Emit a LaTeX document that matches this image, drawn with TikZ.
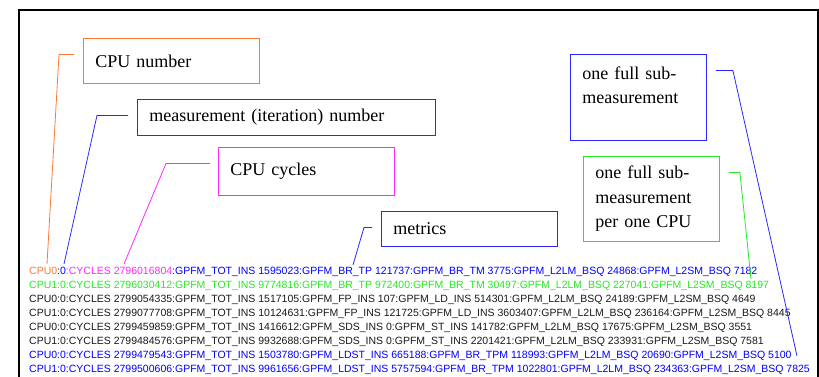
\documentclass[tikz,border=0pt]{standalone}
\usepackage{fontspec}
\setmainfont{Liberation Serif}
\setsansfont{Liberation Sans}
\definecolor{cpuorange}{RGB}{255,120,50}
\definecolor{notemagenta}{RGB}{255,40,255}
\definecolor{noteblue}{RGB}{40,40,255}
\definecolor{notegreen}{RGB}{40,230,40}
\definecolor{rowgray}{RGB}{25,25,25}
\tikzset{note/.style={draw=#1,line width=0.9pt,anchor=north west,align=left,inner xsep=12pt,inner ysep=0pt,font={\fontsize{18pt}{24.5pt}\selectfont}}}
\tikzset{note/.default={noteblue}}
\tikzset{lead/.style={draw,line width=0.8pt,#1}}
\tikzset{lead/.default={noteblue}}
\tikzset{row/.style={anchor=base west,inner sep=0pt,font={\sffamily\fontsize{10.5pt}{12pt}\selectfont}}}

\begin{document}
\begin{tikzpicture}[x=1pt,y=-1pt]
    \useasboundingbox (0,0) rectangle (819,376);
    \clip (0,0) rectangle (819,376);
    \draw[line width=2pt] (19,400) -- (19,10) -- (817.5,10) -- (817.5,400);
    % boxes
    \node[note=cpuorange,text width=152pt,minimum height=45pt] (cpunum) at (83,38) {CPU number};
    \node[note,text width=274pt,minimum height=36pt] (meas) at (137,99) {measurement (iteration) number};
    \node[note=notemagenta,text width=152pt,minimum height=48pt] (cycles) at (218,147) {CPU cycles};
    \node[note,text width=152pt,minimum height=35pt] (metrics) at (381,211) {metrics};
    \node[note,text width=112pt,minimum height=86pt] (sub) at (570,54) {one full sub-\\measurement\\\mbox{}};
    \node[note=notegreen,text width=112pt,minimum height=85pt] (subcpu) at (583,156) {one full sub-\\measurement\\per one CPU};
    % output lines
    \node[row] (r1) at (29,274) {\textcolor{cpuorange}{CPU0}\textcolor{rowgray}{:}\textcolor{blue}{0}\textcolor{notemagenta}{:CYCLES 2796016804}\textcolor{blue}{:GPFM\_TOT\_INS 1595023:GPFM\_BR\_TP 121737:GPFM\_BR\_TM 3775:GPFM\_L2LM\_BSQ 24868:GPFM\_L2SM\_BSQ 7182}};
    \foreach \i/\c/\t in {2/notegreen/CPU1:0:CYCLES 2796030412:GPFM\_TOT\_INS 9774816:GPFM\_BR\_TP 972400:GPFM\_BR\_TM 30497:GPFM\_L2LM\_BSQ 227041:GPFM\_L2SM\_BSQ 8197,
        3/rowgray/CPU0:0:CYCLES 2799054335:GPFM\_TOT\_INS 1517105:GPFM\_FP\_INS 107:GPFM\_LD\_INS 514301:GPFM\_L2LM\_BSQ 24189:GPFM\_L2SM\_BSQ 4649,
        4/rowgray/CPU1:0:CYCLES 2799077708:GPFM\_TOT\_INS 10124631:GPFM\_FP\_INS 121725:GPFM\_LD\_INS 3603407:GPFM\_L2LM\_BSQ 236164:GPFM\_L2SM\_BSQ 8445,
        5/rowgray/CPU0:0:CYCLES 2799459859:GPFM\_TOT\_INS 1416612:GPFM\_SDS\_INS 0:GPFM\_ST\_INS 141782:GPFM\_L2LM\_BSQ 17675:GPFM\_L2SM\_BSQ 3551,
        6/rowgray/CPU1:0:CYCLES 2799484576:GPFM\_TOT\_INS 9932688:GPFM\_SDS\_INS 0:GPFM\_ST\_INS 2201421:GPFM\_L2LM\_BSQ 233931:GPFM\_L2SM\_BSQ 7581,
        7/blue/CPU0:0:CYCLES 2799479543:GPFM\_TOT\_INS 1503780:GPFM\_LDST\_INS 665188:GPFM\_BR\_TPM 118993:GPFM\_L2LM\_BSQ 20690:GPFM\_L2SM\_BSQ 5100,
        8/blue/CPU1:0:CYCLES 2799500606:GPFM\_TOT\_INS 9961656:GPFM\_LDST\_INS 5757594:GPFM\_BR\_TPM 1022801:GPFM\_L2LM\_BSQ 234363:GPFM\_L2SM\_BSQ 7825}{
        \node[row,text=\c] (r\i) at (29,274+14*\i-14) {\t};
    }
    % leader ends
    \coordinate (cpuTip) at (47,264);
    \coordinate (measTip) at (64,264);
    \coordinate (cyclesTip) at (124,264);
    \coordinate (metricsTip) at (353,265);
    \coordinate (subTip) at (797,356);
    \coordinate (subcpuTip) at (751,279);
    \path[lead=cpuorange] ([shift={(-9,-6.5)}]cpunum.west) -- ++(-15,0) -- (cpuTip);
    \path[lead] ([shift={(-9,-2)}]meas.west) -- ++(-31,0) -- (measTip);
    \path[lead=notemagenta] ([shift={(-8,-8)}]cycles.west) -- ++(-44,0) -- (cyclesTip);
    \path[lead] ([shift={(-9,-1.5)}]metrics.west) -- ++(-8,0) -- (metricsTip);
    \path[lead] ([shift={(9,-27)}]sub.east) -- ++(17,0) -- (subTip);
    \path[lead=notegreen] ([shift={(9,-26.5)}]subcpu.east) -- ++(11,0) -- (subcpuTip);
\end{tikzpicture}
\end{document}
